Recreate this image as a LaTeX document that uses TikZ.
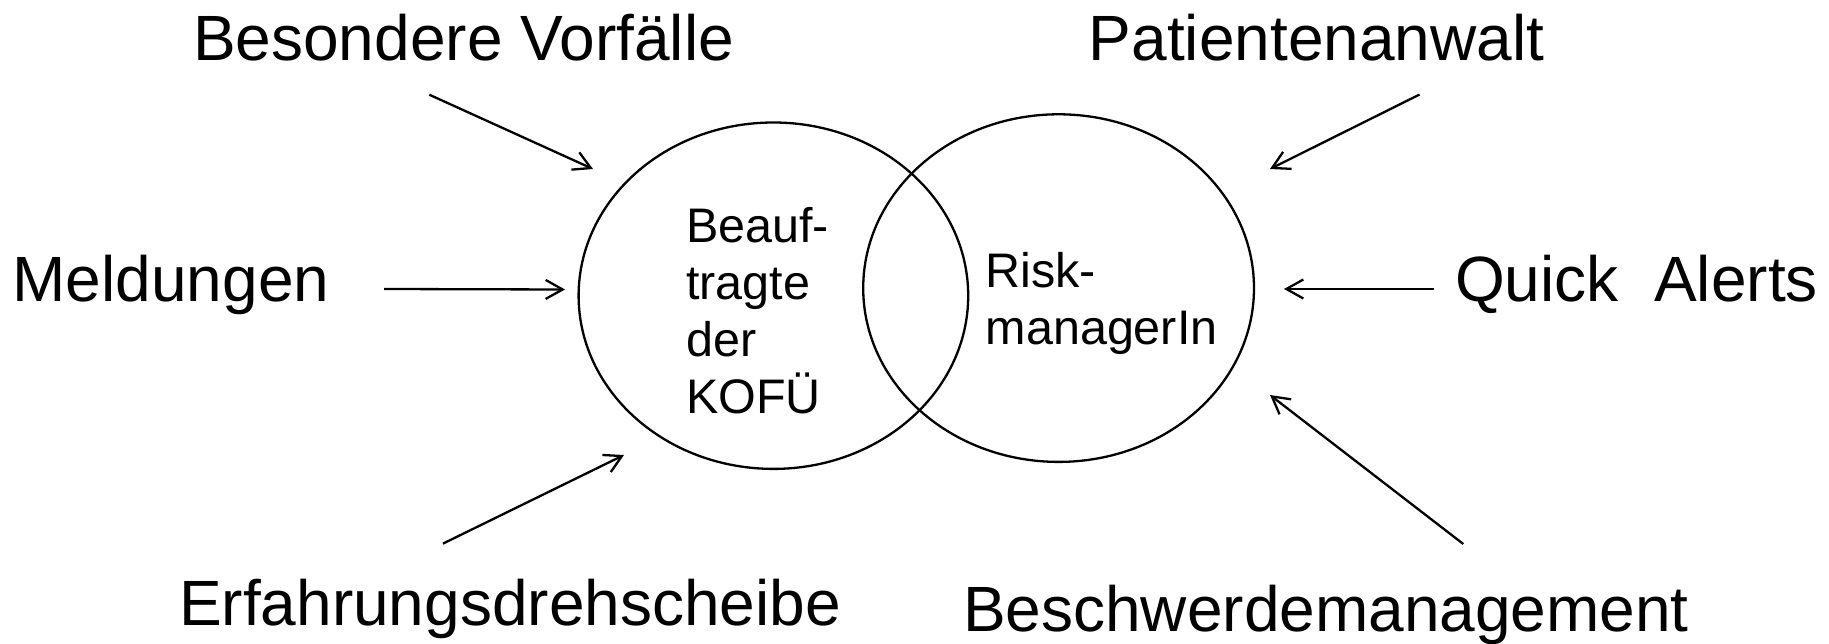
\documentclass[tikz,border=0pt]{standalone}
\usepackage{fontspec}
\setmainfont{Liberation Sans}
\usetikzlibrary{shapes.geometric,arrows.meta}
\tikzset{
  big/.style={font={\fontsize{64}{76}\selectfont}, inner sep=0pt, anchor=base},
  inner/.style={font={\fontsize{48.5}{57}\selectfont}, inner sep=0pt, align=left, anchor=north west},
  circ/.style={draw, ellipse, line width=2.3pt, inner sep=0pt},
  arr/.style={line width=2.3pt, -{Straight Barb[length=17pt,width=19pt]}}
}
\begin{document}
\begin{tikzpicture}[x=1pt,y=-1pt]
\useasboundingbox (0,0) rectangle (1829,644);
\node[circ, minimum width=389.6pt, minimum height=346.4pt] (L) at (773.4,295.7) {};
\node[circ, minimum width=390.8pt, minimum height=347.6pt] (R) at (1058.6,288.1) {};
\node[inner] (beauf) at (686,207.2) {Beauf-\\tragte\\der\\KOFÜ};
\node[inner] (risk) at (985.5,252.3) {Risk-\\managerIn};

\node[big] (bv) at (463.5,60.7) {Besondere Vorfälle};
\node[big] (pa) at (1316.5,61) {Patientenanwalt};
\node[big] (me) at (171,302) {Meldungen};
\node[big] (qa) at (1636.5,302) {Quick\ \ Alerts};
\node[big] (ed) at (510,625) {Erfahrungsdrehscheibe};
\node[big] (bm) at (1326,631) {Beschwerdemanagement};

\coordinate (bvS) at (429.3,94.7);
\coordinate (bvE) at (593,169);
\coordinate (meS) at (384,289);
\coordinate (meE) at (565,289.5);
\coordinate (edS) at (443,543.6);
\coordinate (edE) at (624,455);
\coordinate (paS) at (1419.6,94.5);
\coordinate (paE) at (1270,169);
\coordinate (qaS) at (1433.6,289);
\coordinate (qaE) at (1284,289);
\coordinate (bmS) at (1463.3,544);
\coordinate (bmE) at (1270,395);

\draw[arr] (bvS) -- (bvE);
\draw[arr] (meS) -- (meE);
\draw[arr] (edS) -- (edE);
\draw[arr] (paS) -- (paE);
\draw[arr] (qaS) -- (qaE);
\draw[arr] (bmS) -- (bmE);
\end{tikzpicture}
\end{document}
